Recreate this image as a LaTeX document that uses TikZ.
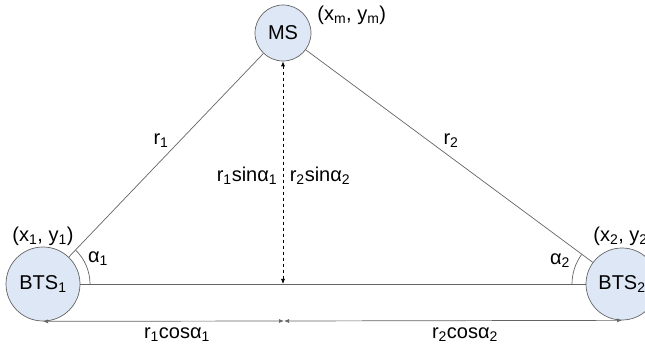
\documentclass[tikz,border=0pt]{standalone}
\usepackage{fontspec}
\setmainfont{Liberation Sans}
\usetikzlibrary{arrows.meta}
\definecolor{stfill}{RGB}{222,231,245}
\definecolor{stline}{RGB}{100,100,100}

\begin{document}
\begin{tikzpicture}[x=1pt,y=-1pt,line width=0.7pt,>={Latex[length=5pt,width=4pt]},
    station/.style={circle,draw=stline,fill=stfill,inner sep=0pt},
    lbl/.style={font=\fontsize{20}{23}\selectfont,inner sep=0pt}]
  \useasboundingbox (0,0) rectangle (645,347);
  \coordinate (C1) at (43,284);
  \coordinate (C2) at (622,284);
  \coordinate (Cm) at (283,33);
  \coordinate (F) at (283,284);
  \coordinate (M) at (284,321);
  \node[station,minimum size=74pt] (BTS1) at (C1) {};
  \node[station,minimum size=72pt] (BTS2) at (C2) {};
  \node[station,minimum size=56pt] (MS) at (Cm) {};
  \draw[stline] (BTS1) -- (MS);
  \draw[stline] (MS) -- (BTS2);
  \draw[stline] (BTS1) -- (BTS2);
  \draw[dashed,<->] (MS.south) -- (F);
  \draw[stline,<->] (BTS1.south) -- (M);
  \draw[stline,<->] (M) -- (BTS2.south);
  % angles
  \draw[stline] ([shift={(0:47)}]C1) arc[start angle=0,end angle=-46,radius=47];
  \draw[stline] ([shift={(180:50)}]C2) arc[start angle=180,end angle=216,radius=50];
  \node[lbl] at (C1) {BTS\textsubscript{1}};
  \node[lbl] at ([xshift=0pt]C2) {BTS\textsubscript{2}};
  \node[lbl] at (Cm) {MS};
  \node[lbl,anchor=west] (pm) at (317,15) {(x\textsubscript{m}, y\textsubscript{m})};
  \node[lbl] (p1) at (43,236) {(x\textsubscript{1}, y\textsubscript{1})};
  \node[lbl,anchor=west] (p2) at (593,236) {(x\textsubscript{2}, y\textsubscript{2})};
  \node[lbl] (a1) at (98,259) {α\textsubscript{1}};
  \node[lbl] (a2) at (560,261) {α\textsubscript{2}};
  \node[lbl] (r1) at (161,141) {r\textsubscript{1}};
  \node[lbl] (r2) at (451,141) {r\textsubscript{2}};
  \node[lbl] (s1) at (247,176) {r\textsubscript{1}sinα\textsubscript{1}};
  \node[lbl] (s2) at (320,176) {r\textsubscript{2}sinα\textsubscript{2}};
  \node[lbl] (c1) at (177,335) {r\textsubscript{1}cosα\textsubscript{1}};
  \node[lbl] (c2) at (465,335) {r\textsubscript{2}cosα\textsubscript{2}};
\end{tikzpicture}
\end{document}
